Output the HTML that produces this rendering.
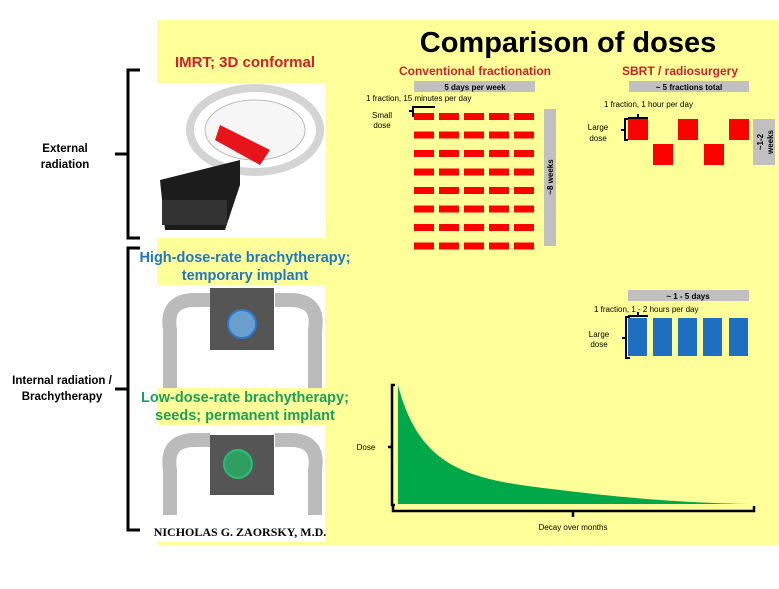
<!DOCTYPE html>
<html><head><meta charset="utf-8"><style>
body{margin:0;width:779px;height:584px;overflow:hidden;background:#fff;font-family:"Liberation Sans",Arial,sans-serif}
</style></head><body>
<svg width="779" height="584" viewBox="0 0 779 584" xmlns="http://www.w3.org/2000/svg" font-family="Liberation Sans, Arial, sans-serif">
<rect x="157" y="20" width="622" height="525" fill="#ffff99"/>
<text x="568" y="52" font-size="29" font-weight="bold" text-anchor="middle" fill="#000">Comparison of doses</text>
<text x="245" y="67" font-size="15" font-weight="bold" text-anchor="middle" fill="#d0202a">IMRT; 3D conformal</text>
<!-- external image -->
<rect x="140" y="83" width="186" height="155" fill="#fff"/>
<ellipse cx="255" cy="130" rx="65" ry="42" fill="none" stroke="#d4d4d4" stroke-width="8"/>
<ellipse cx="255" cy="130" rx="50" ry="30" fill="#f6f6f6" stroke="#bbb"/>
<polygon points="220,125 270,150 260,165 215,140" fill="#e8141c"/>
<polygon points="160,180 240,160 240,185 225,230 165,230" fill="#1c1c1c"/>
<rect x="162" y="200" width="65" height="25" fill="#333"/>
<!-- left brackets -->
<path d="M140 70 H128 V154 H115 M128 154 V238 H140" fill="none" stroke="#000" stroke-width="3"/>
<path d="M140 248 H128 V389 H115 M128 389 V530 H140" fill="none" stroke="#000" stroke-width="3"/>
<text x="65" y="152" font-size="11.5" font-weight="bold" text-anchor="middle">External</text>
<text x="65" y="168" font-size="11.5" font-weight="bold" text-anchor="middle">radiation</text>
<text x="62" y="384" font-size="11.5" font-weight="bold" text-anchor="middle">Internal radiation /</text>
<text x="62" y="400" font-size="11.5" font-weight="bold" text-anchor="middle">Brachytherapy</text>
<!-- HDR -->
<text x="245" y="262" font-size="14.5" font-weight="bold" text-anchor="middle" fill="#1f77c4">High-dose-rate brachytherapy;</text>
<text x="245" y="280" font-size="14.5" font-weight="bold" text-anchor="middle" fill="#1f77c4">temporary implant</text>
<rect x="155" y="285" width="170" height="103" fill="#fff"/>
<path d="M170 388 V330 Q165 300 195 300 L210 300 M315 388 V330 Q320 300 290 300 L275 300" fill="none" stroke="#bbb" stroke-width="14"/>
<rect x="210" y="288" width="64" height="62" fill="#555"/>
<circle cx="242" cy="324" r="14" fill="#6a9fd0" stroke="#2a7bd0" stroke-width="2"/>
<!-- LDR -->
<text x="245" y="402" font-size="14.5" font-weight="bold" text-anchor="middle" fill="#1aa05a">Low-dose-rate brachytherapy;</text>
<text x="245" y="420" font-size="14.5" font-weight="bold" text-anchor="middle" fill="#1aa05a">seeds; permanent implant</text>
<rect x="155" y="425" width="170" height="117" fill="#fff"/>
<path d="M170 515 V470 Q165 440 195 440 L210 440 M315 515 V470 Q320 440 290 440 L275 440" fill="none" stroke="#bbb" stroke-width="14"/>
<rect x="210" y="435" width="64" height="60" fill="#555"/>
<circle cx="238" cy="464" r="14" fill="#2fa060" stroke="#25c070" stroke-width="2"/>
<text x="240" y="536" font-size="12" font-family="Liberation Serif, serif" font-weight="bold" text-anchor="middle">NICHOLAS G. ZAORSKY, M.D.</text>
<!-- conventional -->
<text x="475" y="75" font-size="12" font-weight="bold" text-anchor="middle" fill="#d0202a">Conventional fractionation</text>
<rect x="414" y="81" width="121" height="11" fill="#c0c0c0"/>
<text x="475" y="90" font-size="8" font-weight="bold" text-anchor="middle">5 days per week</text>
<text x="366" y="101" font-size="8">1 fraction, 15 minutes per day</text>
<text x="382" y="118" font-size="8" text-anchor="middle">Small</text>
<text x="382" y="128" font-size="8" text-anchor="middle">dose</text>
<path d="M435 107 H413 V111 H409 M413 111 V117" fill="none" stroke="#000" stroke-width="2"/>
<g fill="#ff0000">
<g id="r"><rect x="414" y="113" width="20" height="7"/><rect x="439" y="113" width="20" height="7"/><rect x="464" y="113" width="20" height="7"/><rect x="489" y="113" width="20" height="7"/><rect x="514" y="113" width="20" height="7"/></g>
<use href="#r" y="18.5"/><use href="#r" y="37"/><use href="#r" y="55.5"/><use href="#r" y="74"/><use href="#r" y="92.5"/><use href="#r" y="111"/><use href="#r" y="129.5"/>
</g>
<rect x="544" y="109" width="12" height="137" fill="#c0c0c0"/>
<text transform="translate(553,177) rotate(-90)" font-size="8" font-weight="bold" text-anchor="middle">~8 weeks</text>
<!-- SBRT -->
<text x="680" y="75" font-size="12" font-weight="bold" text-anchor="middle" fill="#d0202a">SBRT / radiosurgery</text>
<rect x="629" y="81" width="120" height="11" fill="#c0c0c0"/>
<text x="689" y="90" font-size="8" font-weight="bold" text-anchor="middle">~  5 fractions total</text>
<text x="604" y="107" font-size="8">1 fraction, 1 hour per day</text>
<text x="598" y="130" font-size="8" text-anchor="middle">Large</text>
<text x="598" y="141" font-size="8" text-anchor="middle">dose</text>
<path d="M628 118 H648 M638 118 V114 M628 119 H625 V140 H628 M625 130 H621" fill="none" stroke="#000" stroke-width="2"/>
<g fill="#ff0000"><rect x="628" y="119" width="20" height="21"/><rect x="678" y="119" width="20" height="21"/><rect x="729" y="119" width="20" height="21"/><rect x="653" y="144" width="20" height="21"/><rect x="704" y="144" width="20" height="21"/></g>
<rect x="753" y="119" width="22" height="46" fill="#c0c0c0"/>
<text transform="translate(763,142) rotate(-90)" font-size="8" font-weight="bold" text-anchor="middle">~1-2</text>
<text transform="translate(773,142) rotate(-90)" font-size="8" font-weight="bold" text-anchor="middle">weeks</text>
<!-- HDR schedule -->
<rect x="628" y="290" width="121" height="11" fill="#c0c0c0"/>
<text x="688" y="299" font-size="8" font-weight="bold" text-anchor="middle">~ 1 - 5 days</text>
<text x="594" y="312" font-size="8">1 fraction,  1 - 2 hours per day</text>
<text x="599" y="337" font-size="8" text-anchor="middle">Large</text>
<text x="599" y="347" font-size="8" text-anchor="middle">dose</text>
<path d="M628 316 H648 M638 316 V312 M630 317 H626 V358 H630 M626 338 H622" fill="none" stroke="#000" stroke-width="2"/>
<g fill="#1f6fc0"><rect x="628" y="318" width="19" height="38"/><rect x="653" y="318" width="19" height="38"/><rect x="678" y="318" width="19" height="38"/><rect x="703" y="318" width="19" height="38"/><rect x="729" y="318" width="19" height="38"/></g>
<!-- decay -->
<path d="M398 385 C420 470 470 480 560 490 C640 500 700 503 748 504 L398 504 Z" fill="#00a84a"/>
<path d="M395 385 H392 V505 H395 M392 447 H388" fill="none" stroke="#000" stroke-width="2.5"/>
<path d="M393 506 V511 H754 V506 M573 511 V517" fill="none" stroke="#000" stroke-width="2.5"/>
<text x="366" y="450" font-size="8" text-anchor="middle">Dose</text>
<text x="573" y="530" font-size="8" text-anchor="middle">Decay over months</text>
</svg>
</body></html>
